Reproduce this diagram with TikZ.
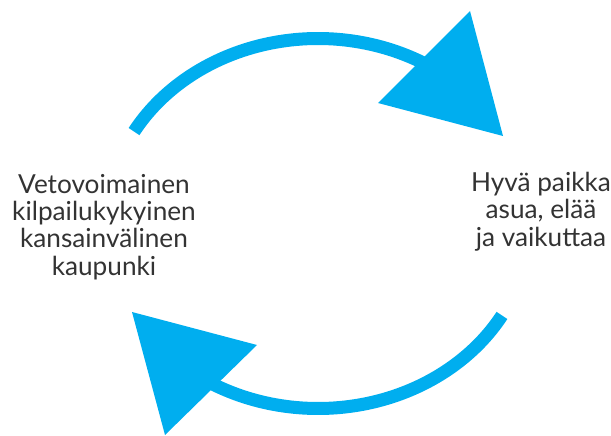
\documentclass[tikz,border=0pt]{standalone}
\usepackage{fontspec}
\setmainfont{Lato}
\usetikzlibrary{calc}
\definecolor{arrowblue}{HTML}{00AEEF}
\definecolor{textgray}{HTML}{333333}
\tikzset{
  cyclearc/.style={draw=arrowblue, line width=13pt, line cap=butt},
  cyclehead/.style={fill=arrowblue, draw=none},
  label/.style={text=textgray, align=center, inner sep=0pt, font=\fontsize{26.2}{27.3}\selectfont}
}
\begin{document}
\begin{tikzpicture}[x=1pt,y=-1pt]
\useasboundingbox (0,0) rectangle (611,436);
% text nodes (base = baseline of last line)
\node[label, anchor=base] (left) at (104,275) {Vetovoimainen\\kilpailukykyinen\\kansainvälinen\\kaupunki};
\node[label, anchor=base] (right) at (541,246) {Hyvä paikka\\asua, elää\\ja vaikuttaa};
% top arrow
\coordinate (c) at (318,223.5);
\coordinate (topstart) at ($(c)+({212*cos(-150.2)},{185*sin(-150.2)})$);
\draw[cyclearc] (topstart) arc[start angle=-150.2, end angle=-55, x radius=212, y radius=185];
\fill[cyclehead] (470,11) -- (503,136) -- (378,103) -- cycle;
% bottom arrow
\coordinate (botstart) at ($(c)+({212*cos(29.8)},{185*sin(29.8)})$);
\draw[cyclearc] (botstart) arc[start angle=29.8, end angle=125, x radius=212, y radius=185];
\fill[cyclehead] (165,435) -- (132,312) -- (257,345) -- cycle;
\end{tikzpicture}
\end{document}
